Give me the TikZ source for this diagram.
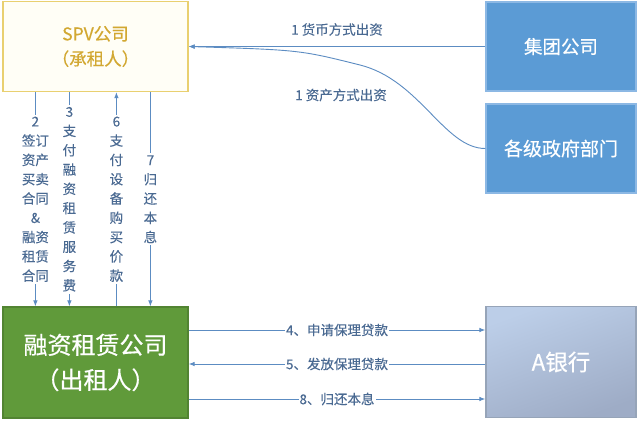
\documentclass[tikz,border=0pt]{standalone}
\usepackage{fontspec}
\setmainfont{Noto Sans CJK SC}
\newfontfamily\boxfont[FakeBold=0.5]{Noto Sans CJK SC}
\newfontfamily\lblfont[FakeBold=0.15]{Noto Sans CJK SC}
\usetikzlibrary{arrows.meta}
\definecolor{lineblue}{RGB}{92,140,194}
\definecolor{lbltext}{RGB}{74,106,146}
\definecolor{spvfill}{RGB}{255,254,246}
\definecolor{spvdraw}{RGB}{233,208,112}
\definecolor{spvtext}{RGB}{210,168,50}
\definecolor{bluefill}{RGB}{91,155,213}
\definecolor{bluedraw}{RGB}{140,184,228}
\definecolor{greenfill}{RGB}{96,154,58}
\definecolor{greendraw}{RGB}{82,132,50}
\definecolor{banktop}{RGB}{188,206,232}
\definecolor{bankbot}{RGB}{158,172,198}
\definecolor{bankdraw}{RGB}{150,164,184}
\tikzset{
  conn/.style={draw=lineblue, line width=0.9pt, -{Latex[length=6pt,width=4.5pt]}},
  vlabel/.style={fill=white, text=lbltext, align=center, inner sep=2pt,
    font={\lblfont\fontsize{13.5}{19.3}\selectfont}},
  hlabel/.style={fill=white, text=lbltext, inner sep=1pt,
    font={\lblfont\fontsize{13.5}{16}\selectfont}},
  toplabel/.style={text=lbltext, inner sep=1pt,
    font={\lblfont\fontsize{13.5}{16}\selectfont}},
  spvbox/.style={draw=spvdraw, fill=spvfill, line width=1.2pt, text=spvtext,
    align=center, minimum width=185pt, minimum height=90pt,
    font={\boxfont\fontsize{17.5}{25}\selectfont}},
  bluebox/.style={draw=bluedraw, fill=bluefill, line width=1.4pt, text=white,
    minimum width=150pt, minimum height=89pt},
  greenbox/.style={draw=greendraw, fill=greenfill, line width=1.2pt, text=white,
    align=center, minimum width=185pt, minimum height=111pt,
    font={\boxfont\fontsize{24}{35}\selectfont}},
  bankbox/.style={draw=bankdraw, top color=banktop, bottom color=bankbot,
    shading angle=20, line width=1.2pt, text=white,
    minimum width=150pt, minimum height=111pt,
    font={\boxfont\fontsize{22.5}{26}\selectfont}}
}
\begin{document}
\begin{tikzpicture}[x=1pt,y=-1pt]
\useasboundingbox[fill=white] (0,0) rectangle (640,423);

\node[spvbox] (spv) at (95.5,46.5) {SPV公司\\（承租人）};
\node[bluebox, font={\boxfont\fontsize{18.5}{22}\selectfont}] (group) at (561,46.5) {集团公司};
\node[bluebox, font={\boxfont\fontsize{19}{22}\selectfont}] (gov) at (561,148.5) {各级政府部门};
\node[greenbox] (lessor) at (95.5,362.5) {融资租赁公司\\（出租人）};
\node[bankbox] (bank) at (561,362) {A银行};

% capital contributions
\draw[conn] (group.west) -- node[toplabel, yshift=17pt] (l1a) {1 货币方式出资} (group.west -| spv.east);
\draw[conn] (gov.west) .. controls +(-41,0) and (420,80) .. (360,65)
  .. controls (300,50) .. (group.west -| spv.east);
\node[toplabel] (l1b) at (341,95) {1 资产方式出资};

% vertical flows between SPV and lessor
\draw[conn] ([xshift=33pt]spv.south west) -- node[vlabel] (l2)
  {2\\签订\\资产\\买卖\\合同\\\&\\融资\\租赁\\合同} ([xshift=33pt]lessor.north west);
\draw[conn] ([xshift=67pt]spv.south west) -- node[vlabel] (l3)
  {3\\支\\付\\融\\资\\租\\赁\\服\\务\\费} ([xshift=67pt]lessor.north west);
\draw[conn] ([xshift=114pt]lessor.north west) -- node[vlabel] (l6)
  {6\\支\\付\\设\\备\\购\\买\\价\\款} ([xshift=114pt]spv.south west);
\draw[conn] ([xshift=148pt]spv.south west) -- node[vlabel] (l7)
  {7\\归\\还\\本\\息} ([xshift=148pt]lessor.north west);

% flows between lessor and bank
\draw[conn] ([yshift=32.5pt]lessor.east) -- node[hlabel] (l4) {4、申请保理贷款} ([yshift=32.5pt]lessor.east -| bank.west);
\draw[conn] ([yshift=-1.5pt]lessor.east -| bank.west) -- node[hlabel] (l5) {5、发放保理贷款} ([yshift=-1.5pt]lessor.east);
\draw[conn] ([yshift=-36.5pt]lessor.east) -- node[hlabel] (l8) {8、归还本息} ([yshift=-36.5pt]lessor.east -| bank.west);
\end{tikzpicture}
\end{document}
